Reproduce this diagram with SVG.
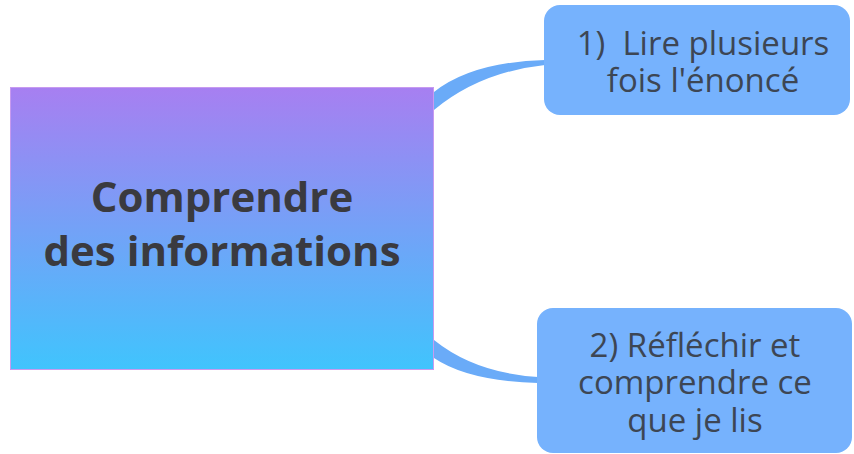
<svg xmlns="http://www.w3.org/2000/svg" width="854" height="454" viewBox="0 0 854 454">
<defs>
<linearGradient id="g" x1="0" y1="0" x2="0" y2="1">
<stop offset="0" stop-color="#a77ff1"/>
<stop offset="1" stop-color="#40c4fd"/>
</linearGradient>
</defs>
<style>
.sub{fill:#76b2fd;}
.t{font-family:"Open Sans","Noto Sans",sans-serif;fill:#3d4654;text-anchor:middle;font-size:33px;}
.main{font-family:"Open Sans","Noto Sans",sans-serif;fill:#3a3a3f;text-anchor:middle;font-size:42px;font-weight:bold;}
.c{fill:#6aabf8;}
</style>
<g id="connectors">
<path class="c" d="M434,92 Q472,62 545,60 L545,65 Q480,72 434,110 Z"/>
<path class="c" d="M434,340 Q475,373 538,377 L538,383 Q468,381 434,358 Z"/>
</g>
<g id="main">
<rect x="10.5" y="87.5" width="423" height="282" fill="url(#g)" stroke="#c79af0" stroke-width="1"/>
<text class="main"><tspan x="222" y="212">Comprendre</tspan><tspan x="222" y="266">des informations</tspan></text>
</g>
<g id="n1">
<rect class="sub" x="544" y="5" width="306" height="110" rx="16"/>
<text class="t" xml:space="preserve"><tspan x="703" y="55">1)  Lire plusieurs</tspan><tspan x="703" y="92">fois l'énoncé</tspan></text>
</g>
<g id="n2">
<rect class="sub" x="537" y="308" width="315" height="145" rx="16"/>
<text class="t"><tspan x="695" y="357">2) Réfléchir et</tspan><tspan x="695" y="394">comprendre ce</tspan><tspan x="695" y="432">que je lis</tspan></text>
</g>
</svg>
